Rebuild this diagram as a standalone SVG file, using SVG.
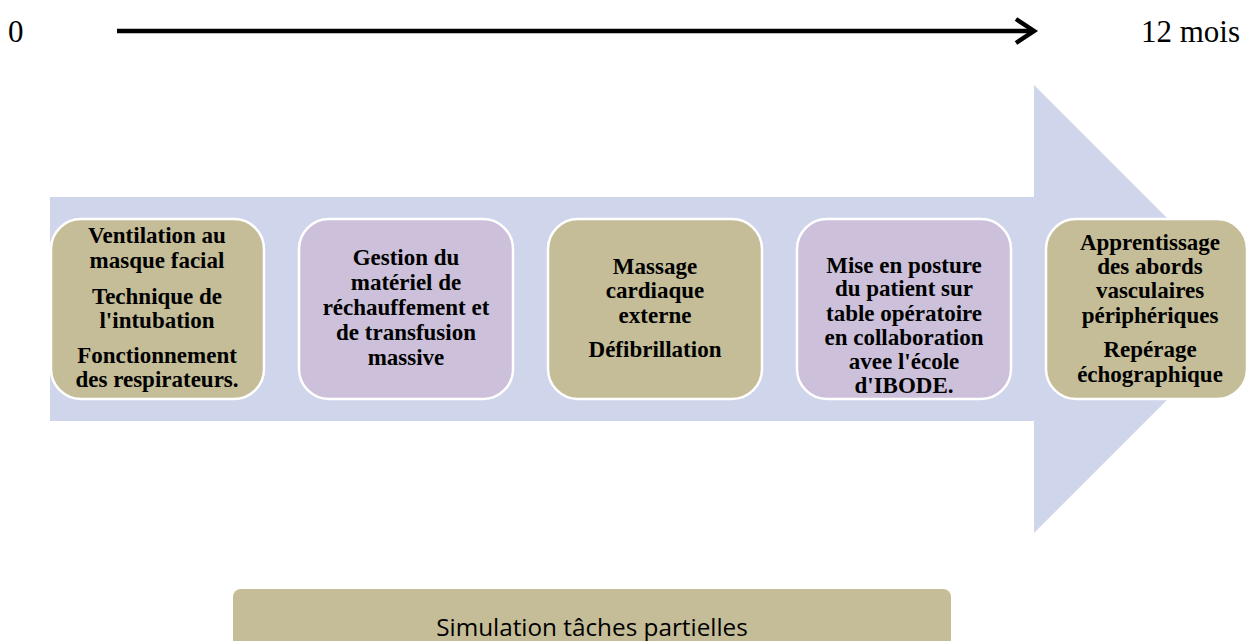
<svg xmlns="http://www.w3.org/2000/svg" width="1248" height="641" viewBox="0 0 1248 641">
<style>
.tl{font-family:"Liberation Serif","Times New Roman",serif;font-size:31px;fill:#000}
.bx{stroke:#fff;stroke-width:2.5}
.tan{fill:#C4BD97}
.lav{fill:#CCC0DA}
.t{font-family:"Liberation Serif","Times New Roman",serif;font-size:23px;font-weight:bold;fill:#000;text-anchor:middle}
.st{font-family:"Open Sans","Noto Sans",sans-serif;font-size:24.3px;fill:#000;text-anchor:middle}
</style>
<rect width="1248" height="641" fill="#fff"/>
<g id="timeline">
<text class="tl" x="8" y="42">0</text>
<line x1="117" y1="31" x2="1033" y2="31" stroke="#000" stroke-width="4.5"/>
<polyline points="1016,19 1034,31 1016,43" fill="none" stroke="#000" stroke-width="4.5"/>
<text class="tl" x="1141" y="42">12 mois</text>
</g>
<g id="big-arrow">
<polygon points="50,197 1034,197 1034,85 1258,309 1034,533 1034,421 50,421" fill="#CFD5EA"/>
</g>
<g id="node1">
<rect class="bx tan" x="51" y="219" width="213" height="180" rx="30"/>
<text class="t" x="157" y="243">Ventilation au</text>
<text class="t" x="157" y="268">masque facial</text>
<text class="t" x="157" y="304">Technique de</text>
<text class="t" x="157" y="328">l'intubation</text>
<text class="t" x="157" y="363">Fonctionnement</text>
<text class="t" x="157" y="387">des respirateurs.</text>
</g>
<g id="node2">
<rect class="bx lav" x="299" y="219" width="214" height="180" rx="30"/>
<text class="t" x="406" y="265">Gestion du</text>
<text class="t" x="406" y="290">matériel de</text>
<text class="t" x="406" y="315">réchauffement et</text>
<text class="t" x="406" y="340">de transfusion</text>
<text class="t" x="406" y="365">massive</text>
</g>
<g id="node3">
<rect class="bx tan" x="548" y="219" width="214" height="180" rx="30"/>
<text class="t" x="655" y="274">Massage</text>
<text class="t" x="655" y="298">cardiaque</text>
<text class="t" x="655" y="323">externe</text>
<text class="t" x="655" y="357">Défibrillation</text>
</g>
<g id="node4">
<rect class="bx lav" x="797" y="219" width="214" height="180" rx="30"/>
<text class="t" x="904" y="273">Mise en posture</text>
<text class="t" x="904" y="296">du patient sur</text>
<text class="t" x="904" y="321">table opératoire</text>
<text class="t" x="904" y="345">en collaboration</text>
<text class="t" x="904" y="369">avee l'école</text>
<text class="t" x="904" y="393">d'IBODE.</text>
</g>
<g id="node5">
<rect class="bx tan" x="1046" y="219" width="201" height="180" rx="30"/>
<text class="t" x="1150" y="250">Apprentissage</text>
<text class="t" x="1150" y="274">des abords</text>
<text class="t" x="1150" y="298">vasculaires</text>
<text class="t" x="1150" y="323">périphériques</text>
<text class="t" x="1150" y="357">Repérage</text>
<text class="t" x="1150" y="382">échographique</text>
</g>
<g id="simulation">
<rect class="tan" x="233" y="589" width="718" height="70" rx="8"/>
<text class="st" x="592" y="636">Simulation tâches partielles</text>
</g>
<g id="connectors"></g>
</svg>
